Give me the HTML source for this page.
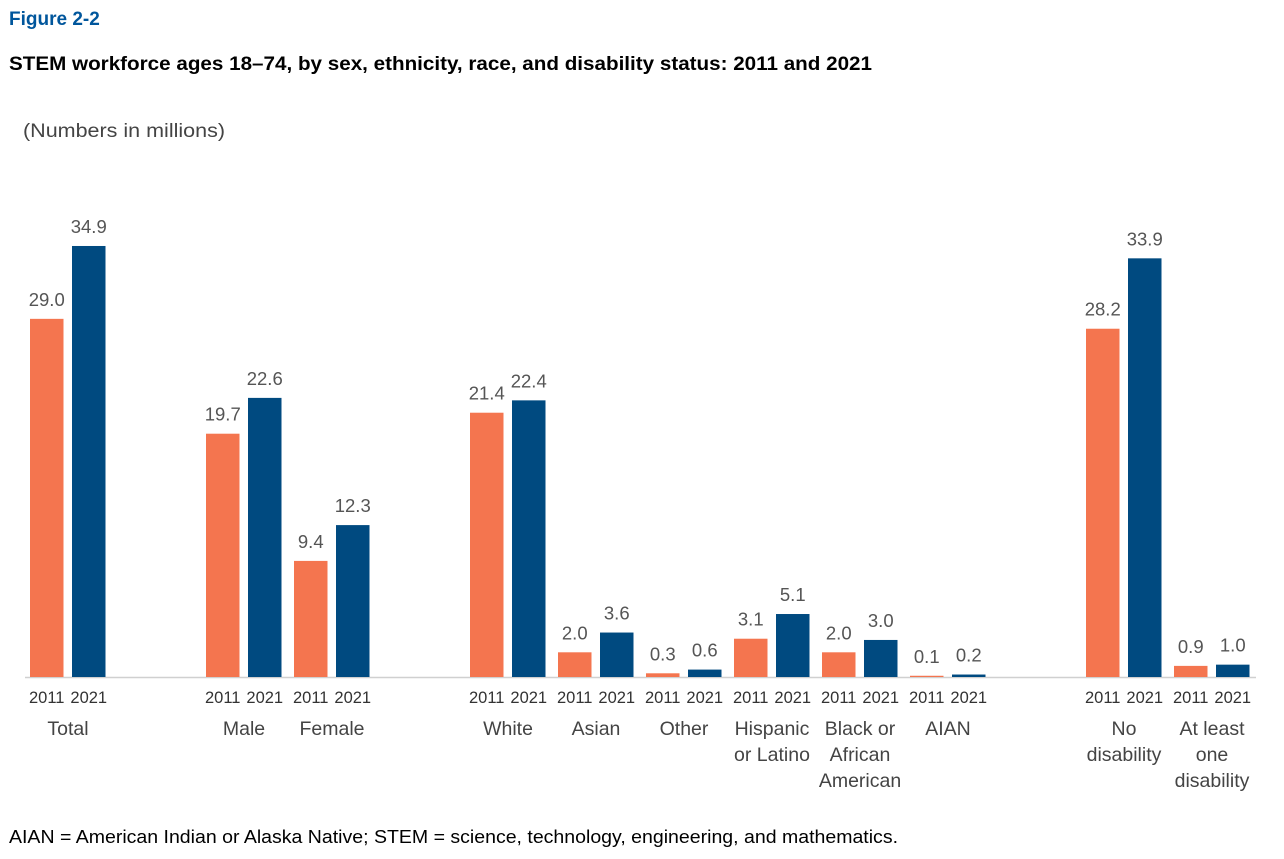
<!DOCTYPE html>
<html><head><meta charset="utf-8"><style>
body{margin:0;background:#fff;width:1284px;height:854px;overflow:hidden;font-family:"Liberation Sans",sans-serif}
</style></head><body>
<svg width="1284" height="854" viewBox="0 0 1284 854" xmlns="http://www.w3.org/2000/svg">
<text x="9" y="25" font-size="19" font-weight="bold" fill="#00569C">Figure 2-2</text>
<text x="9" y="70" font-size="19" font-weight="bold" fill="#000" textLength="863" lengthAdjust="spacingAndGlyphs">STEM workforce ages 18–74, by sex, ethnicity, race, and disability status: 2011 and 2021</text>
<text x="23" y="137" font-size="19" fill="#444" textLength="202" lengthAdjust="spacingAndGlyphs">(Numbers in millions)</text>
<line x1="25" y1="677.5" x2="1256" y2="677.5" stroke="#d0d0d0" stroke-width="1.5"/>
<g id="bars"></g>
<text x="9" y="843" font-size="18" fill="#000" textLength="889" lengthAdjust="spacingAndGlyphs">AIAN = American Indian or Alaska Native; STEM = science, technology, engineering, and mathematics.</text>
</svg>
<script>
const categories=[["Total"],["Male"],["Female"],["White"],["Asian"],["Other"],["Hispanic","or Latino"],["Black or","African","American"],["AIAN"],["No","disability"],["At least","one","disability"]];
const centers=[68,244,332,508,596,684,772,860,948,1124,1212];
const values2011=[29.0,19.7,9.4,21.4,2.0,0.3,3.1,2.0,0.1,28.2,0.9];
const values2021=[34.9,22.6,12.3,22.4,3.6,0.6,5.1,3.0,0.2,33.9,1.0];
const NS="http://www.w3.org/2000/svg";
const g=document.getElementById('bars');
const base=677, k=12.35;
const y=v=>base-v*k;
function mk(tag,a){const e=document.createElementNS(NS,tag);for(const n in a)e.setAttribute(n,a[n]);g.appendChild(e);return e;}
categories.forEach((c,i)=>{
 const cx=centers[i];
 [[values2011[i],cx-38,'#F4754F','2011'],[values2021[i],cx+4,'#004A80','2021']].forEach(([v,x,col,yr])=>{
  const r=mk('rect',{x:x,y:y(v),width:33.5,height:v*k,fill:col});
  
  
  const t=mk('text',{x:x+16.75,y:y(v)-13,'font-size':18.5,fill:'#555','text-anchor':'middle'});
  t.textContent=v.toFixed(1);
  
  
  const yl=mk('text',{x:x+16.75,y:703,'font-size':16.5,fill:'#333','text-anchor':'middle'});
  yl.textContent=yr;
  
  
 });
 c.forEach((ln,j)=>{
  const t=mk('text',{x:cx,y:735+j*26,'font-size':19.5,fill:'#444','text-anchor':'middle'});
  t.textContent=ln;
  
  
 });
});
</script>
</body></html>
